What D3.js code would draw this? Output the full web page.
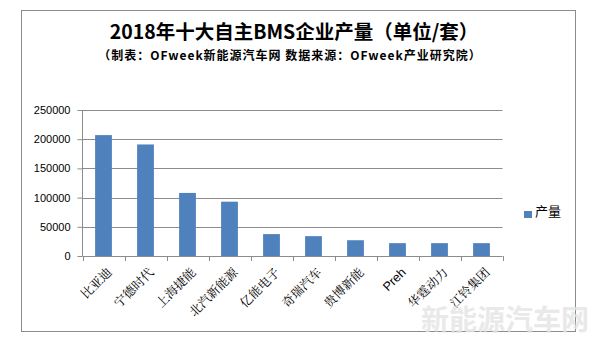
<!DOCTYPE html>
<html>
<head>
<meta charset="utf-8">
<script src="https://cdn.jsdelivr.net/npm/d3@7"></script>
<style>
  body { margin: 0; background: #fff; }
  svg { display: block; }
</style>
</head>
<body>
<div id="chart"></div>
<script>
// Daten
let firmen = ["比亚迪", "宁德时代", "上海捷能", "北汽新能源", "亿能电子", "奇瑞汽车", "贵博新能", "Preh", "华霆动力", "江铃集团"];
let menge = [207000, 191000, 108000, 93000, 37500, 34000, 27000, 22000, 22000, 22000];
let yTicks = [0, 50000, 100000, 150000, 200000, 250000];
let serie = "产量";

let width = 608, height = 345;
let plot = { left: 82.5, right: 502.5, top: 110, bottom: 256 };

let svg = d3.select("#chart")
  .append("svg")
  .attr("width", width)
  .attr("height", height);

// Rahmen
svg.append("rect")
  .attr("x", 21.5).attr("y", 10.5)
  .attr("width", 554).attr("height", 321)
  .attr("fill", "#fff")
  .attr("stroke", "#8c8c8c")
  .attr("stroke-width", 1);

// Titel
svg.append("text")
  .attr("x", 294).attr("y", 39)
  .attr("text-anchor", "middle")
  .style("font-family", "'Noto Sans CJK SC', sans-serif")
  .style("font-weight", "bold")
  .style("font-size", "19.5px")
  .text("2018年十大自主BMS企业产量（单位/套）");

svg.append("text")
  .attr("x", 290).attr("y", 60)
  .attr("text-anchor", "middle")
  .style("font-family", "'Noto Sans CJK SC', sans-serif")
  .style("font-weight", "bold")
  .style("font-size", "12px")
  .style("letter-spacing", "1px")
  .text("（制表：OFweek新能源汽车网 数据来源：OFweek产业研究院）");

let x = d3.scaleBand()
  .domain(firmen)
  .range([plot.left, plot.right])
  .paddingInner(0.6)
  .paddingOuter(0.3);

let y = d3.scaleLinear()
  .domain([0, 250000])
  .range([plot.bottom, plot.top]);

// Gitterlinien
svg.append("g")
  .selectAll("line")
  .data(yTicks.filter(d => d > 0))
  .enter()
  .append("line")
  .attr("x1", plot.left).attr("x2", plot.right)
  .attr("y1", d => Math.round(y(d)) + 0.5)
  .attr("y2", d => Math.round(y(d)) + 0.5)
  .attr("stroke", "#8c8c8c");

// Balken
svg.append("g")
  .selectAll("rect")
  .data(firmen)
  .enter()
  .append("rect")
  .attr("x", d => x(d))
  .attr("width", x.bandwidth())
  .attr("y", (d, i) => y(menge[i]))
  .attr("height", (d, i) => y(0) - y(menge[i]))
  .attr("fill", "#4f81bd");

// y-Achse
let yAxis = svg.append("g")
  .attr("transform", "translate(" + plot.left + ",0)")
  .call(d3.axisLeft(y).tickValues(yTicks).tickSize(5).tickPadding(7).tickFormat(d3.format("d")));
yAxis.select(".domain").attr("stroke", "#8c8c8c").attr("d", "M0," + plot.top + "V" + plot.bottom);
yAxis.selectAll(".tick line").attr("stroke", "#8c8c8c");
yAxis.selectAll("text")
  .style("font-family", "'Liberation Sans', Arial, sans-serif")
  .style("font-size", "11px")
  .attr("fill", "#000");

// x-Achse
let xAxis = svg.append("g")
  .attr("transform", "translate(0," + plot.bottom + ")");
xAxis.append("line")
  .attr("x1", plot.left).attr("x2", plot.right)
  .attr("y1", 0.5).attr("y2", 0.5)
  .attr("stroke", "#8c8c8c");
xAxis.selectAll("line.tick")
  .data(d3.range(firmen.length + 1))
  .enter()
  .append("line")
  .attr("class", "tick")
  .attr("x1", i => Math.round(plot.left + i * (plot.right - plot.left) / firmen.length) + 0.5)
  .attr("x2", i => Math.round(plot.left + i * (plot.right - plot.left) / firmen.length) + 0.5)
  .attr("y1", 0).attr("y2", 5)
  .attr("stroke", "#8c8c8c");

xAxis.selectAll("text")
  .data(firmen)
  .enter()
  .append("text")
  .attr("transform", d => "translate(" + (x(d) + x.bandwidth() / 2 + 6) + ",14) rotate(-45)")
  .attr("text-anchor", "end")
  .attr("dy", "0.35em")
  .style("font-family", d => d === "Preh" ? "'Liberation Sans', Arial, sans-serif" : "'Noto Serif CJK SC', 'AR PL UMing CN', 'Noto Sans CJK SC', serif")
  .style("font-size", "12.5px")
  .attr("fill", "#000")
  .text(d => d);

// Legende
svg.append("rect")
  .attr("x", 524).attr("y", 211)
  .attr("width", 8).attr("height", 7)
  .attr("fill", "#4f81bd");
svg.append("text")
  .attr("x", 535).attr("y", 211)
  .attr("dy", "0.35em")
  .style("font-family", "'Noto Sans CJK SC', sans-serif")
  .style("font-size", "13px")
  .text(serie);

// Wasserzeichen
svg.append("text")
  .attr("x", 505).attr("y", 330)
  .attr("text-anchor", "middle")
  .style("font-family", "'Noto Sans CJK SC', sans-serif")
  .style("font-weight", "bold")
  .style("font-size", "28px")
  .attr("fill", "#e4e4e4")
  .attr("opacity", 0.8)
  .text("新能源汽车网");
</script>
</body>
</html>
